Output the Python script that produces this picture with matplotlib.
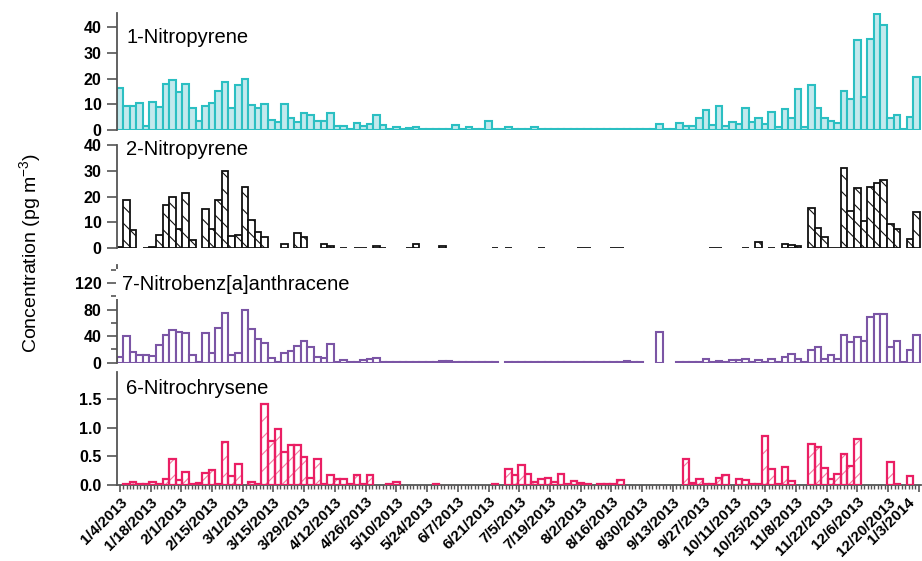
import numpy as np
import pandas as pd
import matplotlib
matplotlib.use("Agg")
import matplotlib.pyplot as plt
import matplotlib.dates as mdates
from matplotlib.ticker import FixedLocator, MultipleLocator
from matplotlib.transforms import ScaledTranslation

plt.rcParams['font.family'] = ['Liberation Sans', 'DejaVu Sans']
plt.rcParams['mathtext.fontset'] = 'custom'
plt.rcParams['mathtext.rm'] = 'Liberation Sans'
plt.rcParams['hatch.linewidth'] = 0.8

nan = np.nan

# muestras cada 3 dias, del 1/4/2013 al 1/2/2014
sample_dates = pd.date_range('2013-01-04', periods=122, freq='3D')

nitropyrene_1 = [
    16.3, 9.4, 9.4, 10.4, 1.6, 10.9, 9.1, 18.0, 19.5, 15.0,
    18.0, 8.7, 3.5, 9.4, 10.4, 15.2, 18.6, 8.7, 17.7, 19.9,
    9.8, 8.5, 10.2, 3.9, 3.3, 10.2, 4.6, 3.3, 6.8, 5.9,
    3.6, 3.6, 6.8, 1.6, 1.6, 0.3, 2.9, 1.6, 2.3, 5.9,
    2.0, 0.3, 1.3, 0.3, 0.6, 1.0, 0.2, 0.2, 0.2, 0.2,
    0.4, 2.1, 0.3, 1.0, 0.2, 0.2, 3.6, 0.2, 0.2, 1.0,
    0.5, 0.2, 0.2, 1.2, 0.2, 0.2, 0.5, 0.2, 0.2, 0.2,
    0.2, 0.2, 0.2, 0.2, 0.5, 0.2, 0.2, 0.2, 0.2, 0.5,
    0.2, 0.2, 2.3, 0.2, 0.2, 2.6, 1.6, 1.6, 4.6, 7.8,
    2.0, 9.4, 1.6, 3.0, 2.2, 8.5, 3.3, 4.6, 2.3, 7.2,
    1.3, 8.1, 4.6, 15.9, 1.0, 17.6, 8.5, 4.6, 3.4, 2.6,
    15.2, 12.1, 34.9, 13.0, 35.4, 45.2, 41.0, 4.6, 5.9, 0.3,
    5.0, 20.6]

nitropyrene_2 = [
    0.5, 18.8, 7.1, nan, 0.3, 0.6, 5.2, 16.9, 19.7, 7.5,
    21.4, 3.1, nan, 15.2, 7.5, 18.8, 29.9, 4.9, 5.2, 23.8,
    11.0, 6.5, 4.5, nan, nan, 1.7, nan, 6.1, 4.5, nan,
    nan, 1.6, 0.9, nan, 0.3, nan, 0.2, 0.2, nan, 0.8,
    0.2, nan, nan, nan, 0.2, 1.7, nan, nan, nan, 0.9,
    nan, nan, nan, nan, nan, nan, nan, 0.2, nan, 0.2,
    nan, nan, nan, nan, 0.2, nan, nan, nan, nan, nan,
    0.2, 0.2, nan, nan, nan, 0.2, 0.2, nan, nan, nan,
    nan, nan, nan, nan, nan, nan, nan, nan, nan, nan,
    0.2, 0.2, nan, nan, nan, 0.3, nan, 2.6, nan, 0.3,
    nan, 1.6, 1.2, 0.9, nan, 15.6, 7.8, 4.5, 0.2, 0.2,
    31.2, 14.5, 23.4, 10.4, 23.8, 25.3, 26.4, 9.4, 7.5, nan,
    3.6, 14.0]

nitrobenzanthracene_7 = [
    8.0, 40.0, 15.5, 11.0, 11.0, 10.0, 26.0, 41.5, 49.0, 46.5,
    45.0, 11.0, 0.5, 45.0, 15.0, 51.5, 75.0, 11.0, 15.0, 79.0,
    50.0, 35.5, 30.0, 6.5, 1.0, 15.0, 17.5, 25.5, 33.0, 24.0,
    9.0, 6.5, 28.0, 0.5, 4.0, 0.5, 1.0, 3.5, 5.0, 7.5,
    0.5, 0.5, 0.5, 0.5, 0.5, 0.5, 0.5, 0.5, 0.5, 3.0,
    3.0, 0.5, 0.5, 0.5, 0.5, 0.5, 0.5, 0.5, nan, 0.5,
    0.5, 0.5, 0.5, 0.5, 0.5, 0.5, 0.5, 0.5, 0.5, 0.5,
    0.5, 0.5, 0.5, 0.5, 0.5, 0.5, 0.5, 2.5, 0.5, 0.5,
    nan, nan, 46.5, nan, nan, 0.5, 0.5, 0.5, 0.5, 6.0,
    0.5, 3.0, 0.5, 3.5, 3.5, 6.0, 0.5, 4.5, 0.5, 6.0,
    0.5, 9.0, 13.0, 6.0, 0.5, 19.5, 24.0, 6.0, 11.5, 6.0,
    42.0, 30.5, 39.0, 32.0, 69.0, 73.0, 73.0, 24.0, 33.0, 1.0,
    19.0, 42.0]

nitrochrysene_6 = [
    nan, 0.01, 0.05, 0.01, 0.01, 0.05, 0.01, 0.10, 0.46, 0.09,
    0.23, 0.01, 0.03, 0.21, 0.27, 0.01, 0.76, 0.16, 0.36, nan,
    0.05, 0.01, 1.41, 0.77, 0.98, 0.58, 0.70, 0.70, 0.49, 0.12,
    0.45, 0.01, 0.17, 0.11, 0.11, 0.01, 0.17, 0.01, 0.17, nan,
    nan, 0.01, 0.06, nan, nan, nan, nan, nan, 0.01, nan,
    nan, nan, nan, nan, nan, nan, nan, 0.01, nan, 0.28,
    0.17, 0.35, 0.19, 0.05, 0.10, 0.12, 0.05, 0.19, 0.01, 0.07,
    0.04, 0.01, nan, 0.01, 0.01, 0.01, 0.09, nan, nan, nan,
    nan, nan, nan, nan, nan, nan, 0.46, 0.04, 0.10, 0.01,
    0.01, 0.12, 0.17, nan, 0.10, 0.09, 0.01, 0.01, 0.85, 0.28,
    0.01, 0.31, 0.07, nan, nan, 0.72, 0.66, 0.30, 0.10, 0.20,
    0.55, 0.33, 0.81, nan, nan, nan, nan, 0.41, 0.01, nan,
    0.15, nan]

tick_dates = pd.date_range('2013-01-04', '2014-01-03', freq='14D')
tick_labels = [f"{d.month}/{d.day}/{d.year}" for d in tick_dates]

x = mdates.date2num(sample_dates)
axis_gray = '#555555'

fig = plt.figure(figsize=(9.22, 5.61), dpi=100)
L, W = 0.1266, 0.8723

panels = [
    # datos, relleno, borde, hatch, nombre, ylim, ticks, minor, y texto, rect
    (nitropyrene_1, '#c3e9ed', '#2bbfc2', None, '1-Nitropyrene', 45.6, [0, 10, 20, 30, 40], None, 0.87, [L, 0.7683, W, 0.2085]),
    (nitropyrene_2, 'white', '#111111', '\\\\', '2-Nitropyrene', 40, [0, 10, 20, 30, 40], None, 1.05, [L, 0.5574, W, 0.1841]),
    (nitrobenzanthracene_7, 'white', '#7b55a5', None, '7-Nitrobenz[a]anthracene', 147, [0, 40, 80, 120], 20, 0.90, [L, 0.3535, W, 0.1741]),
    (nitrochrysene_6, 'white', '#ea1f64', '//', '6-Nitrochrysene', 1.98, [0.0, 0.5, 1.0, 1.5], None, 0.94, [L, 0.1355, W, 0.2019]),
]

axes = []
for k, (vals, face, edge, hatch, name, ytop, yt, ymin_step, ty, rect) in enumerate(panels):
    ax = fig.add_axes(rect)
    vals = np.array(vals, dtype=float)
    ok = np.isfinite(vals)
    if k == 3:
        # trama rosa clara debajo y borde encima
        ax.bar(x[ok], vals[ok], width=3.0, facecolor='white', edgecolor='#f37aa0',
               hatch=hatch, linewidth=0, zorder=2)
        ax.bar(x[ok], vals[ok], width=3.0, facecolor='none', edgecolor=edge,
               linewidth=1.6, zorder=3)
    else:
        ax.bar(x[ok], vals[ok], width=3.0, facecolor=face, edgecolor=edge,
               hatch=hatch, linewidth=1.5 if k != 1 else 1.3, zorder=2)

    ax.set_ylim(0, ytop)
    ax.set_yticks(yt)
    if k == 3:
        ax.set_yticklabels([f"{v:.1f}" for v in yt])
    if ymin_step:
        ax.yaxis.set_minor_locator(MultipleLocator(ymin_step))
    ax.tick_params(axis='y', which='major', direction='out', length=7, width=1.2,
                   color=axis_gray, labelsize=11.5, pad=4)
    ax.tick_params(axis='y', which='minor', direction='out', length=4, width=1.2,
                   color=axis_gray)
    for lbl in ax.get_yticklabels():
        lbl.set_fontweight('bold')

    for s in ['top', 'right']:
        ax.spines[s].set_visible(False)
    ax.spines['left'].set_color(axis_gray)
    ax.spines['left'].set_linewidth(1.3)

    box = dict(facecolor='white', edgecolor='none', pad=4) if k == 2 else None
    ax.text(0.012 if k != 2 else 0.006, ty, name, transform=ax.transAxes,
            fontsize=14.5, ha='left', va='top', bbox=box, zorder=5, clip_on=False)
    axes.append(ax)

x0 = mdates.date2num(pd.Timestamp('2013-01-04')) - 1.4
x1 = mdates.date2num(pd.Timestamp('2014-01-03')) + 1.0
for ax in axes:
    ax.set_xlim(x0, x1)

for ax in axes[:3]:
    ax.spines['bottom'].set_visible(False)
    ax.set_xticks([])

ax = axes[3]
ax.spines['bottom'].set_color(axis_gray)
ax.spines['bottom'].set_linewidth(1.3)
ax.set_xticks(mdates.date2num(tick_dates))
ax.set_xticklabels(tick_labels, rotation=45, ha='right', va='top',
                   rotation_mode='anchor', fontsize=11, fontweight='bold')
minor = np.arange(mdates.date2num(tick_dates[0]), x1, 14 / 9)
ax.xaxis.set_minor_locator(FixedLocator(minor))
ax.tick_params(axis='x', which='major', direction='out', length=5, width=1.2,
               color=axis_gray, pad=2)
ax.tick_params(axis='x', which='minor', direction='out', length=3, width=1.0,
               color=axis_gray)

# la ultima etiqueta se corre un poco para que no se corte en el borde
last = ax.get_xticklabels()[-1]
last.set_transform(last.get_transform() + ScaledTranslation(-8 / 72, 0, fig.dpi_scale_trans))

fig.text(0.033, 0.55, 'Concentration (pg m$^{-3}$)', rotation=90,
         ha='center', va='center', fontsize=14)

fig.savefig('out.png', dpi=100)
